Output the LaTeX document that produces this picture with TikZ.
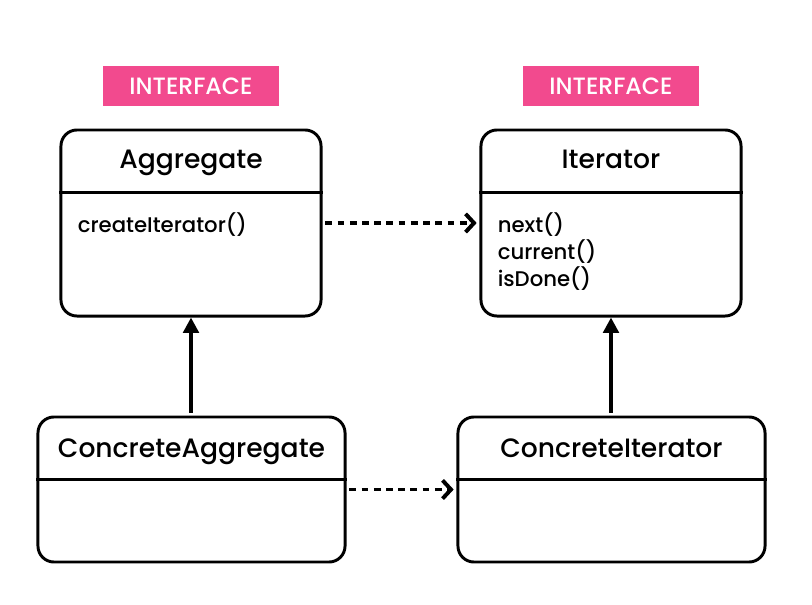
\documentclass[tikz,border=0pt]{standalone}
\usepackage{fontspec}
\setmainfont{Poppins}[UprightFont={* Medium}]
\usetikzlibrary{arrows.meta}

\definecolor{ifacepink}{RGB}{242,74,142}

\begin{document}
\begin{tikzpicture}[
  x=0.025cm, y=-0.025cm,
  classbox/.style={draw, line width=2.1pt, rounded corners=0.4cm, inner sep=0pt},
  topbox/.style={classbox, minimum width=6.5cm, minimum height=4.65cm},
  lowbox/.style={classbox, minimum width=7.675cm, minimum height=3.625cm},
  iface/.style={fill=ifacepink, text=white, inner sep=0pt,
    minimum width=4.4cm, minimum height=1cm, font=\fontsize{16.8}{20}\selectfont},
  cname/.style={anchor=base, inner sep=0pt, font=\fontsize{18.9}{22}\selectfont},
  ops/.style={anchor=north west, align=left, inner sep=0pt,
    font=\fontsize{15.1}{19.1}\selectfont},
  dependency/.style={line width=2.8pt, dash pattern=on 4.8pt off 3.9pt,
    shorten <=2pt, shorten >=2pt,
    -{Straight Barb[length=6pt,width=13pt,line width=2.8pt]}},
  inherit/.style={line width=2.8pt, shorten <=2pt,
    -{Triangle[length=11pt,width=11pt]}}
]
\useasboundingbox (0,0) rectangle (812,605);

% interface tags
\foreach \x/\nm in {191/aggtag, 611/ittag} {
  \node[iface] (\nm) at (\x,86) {INTERFACE};
}

% class boxes
\node[topbox] (agg) at (191,223) {};
\node[topbox] (iter) at (611,223) {};
\node[lowbox] (cagg) at (191.5,489.5) {};
\node[lowbox] (citer) at (611.5,489.5) {};

% header separators
\foreach \b in {agg, iter, cagg, citer} {
  \draw[line width=1.8pt] ([yshift=-1.6cm]\b.north west) -- ([yshift=-1.6cm]\b.north east);
}

% class names
\node[cname] (aggname) at ([yshift=-1cm]agg.north) {Aggregate};
\node[cname] (itername) at ([yshift=-1cm]iter.north) {Iterator};
\node[cname] (caggname) at ([yshift=-1.05cm]cagg.north) {ConcreteAggregate};
\node[cname] (citername) at ([yshift=-1.05cm]citer.north) {ConcreteIterator};

% operations
\node[ops] (aggops) at ([xshift=0.45cm,yshift=-2.1cm]agg.north west) {createIterator()};
\node[ops] (iterops) at ([xshift=0.45cm,yshift=-2.1cm]iter.north west) {next()\\current()\\isDone()};

% relations
\draw[dependency] (agg.east) -- (iter.west);
\draw[dependency] (cagg.east) -- (citer.west);
\draw[inherit] (cagg.north -| agg.south) -- (agg.south);
\draw[inherit] (citer.north -| iter.south) -- (iter.south);

\end{tikzpicture}
\end{document}
